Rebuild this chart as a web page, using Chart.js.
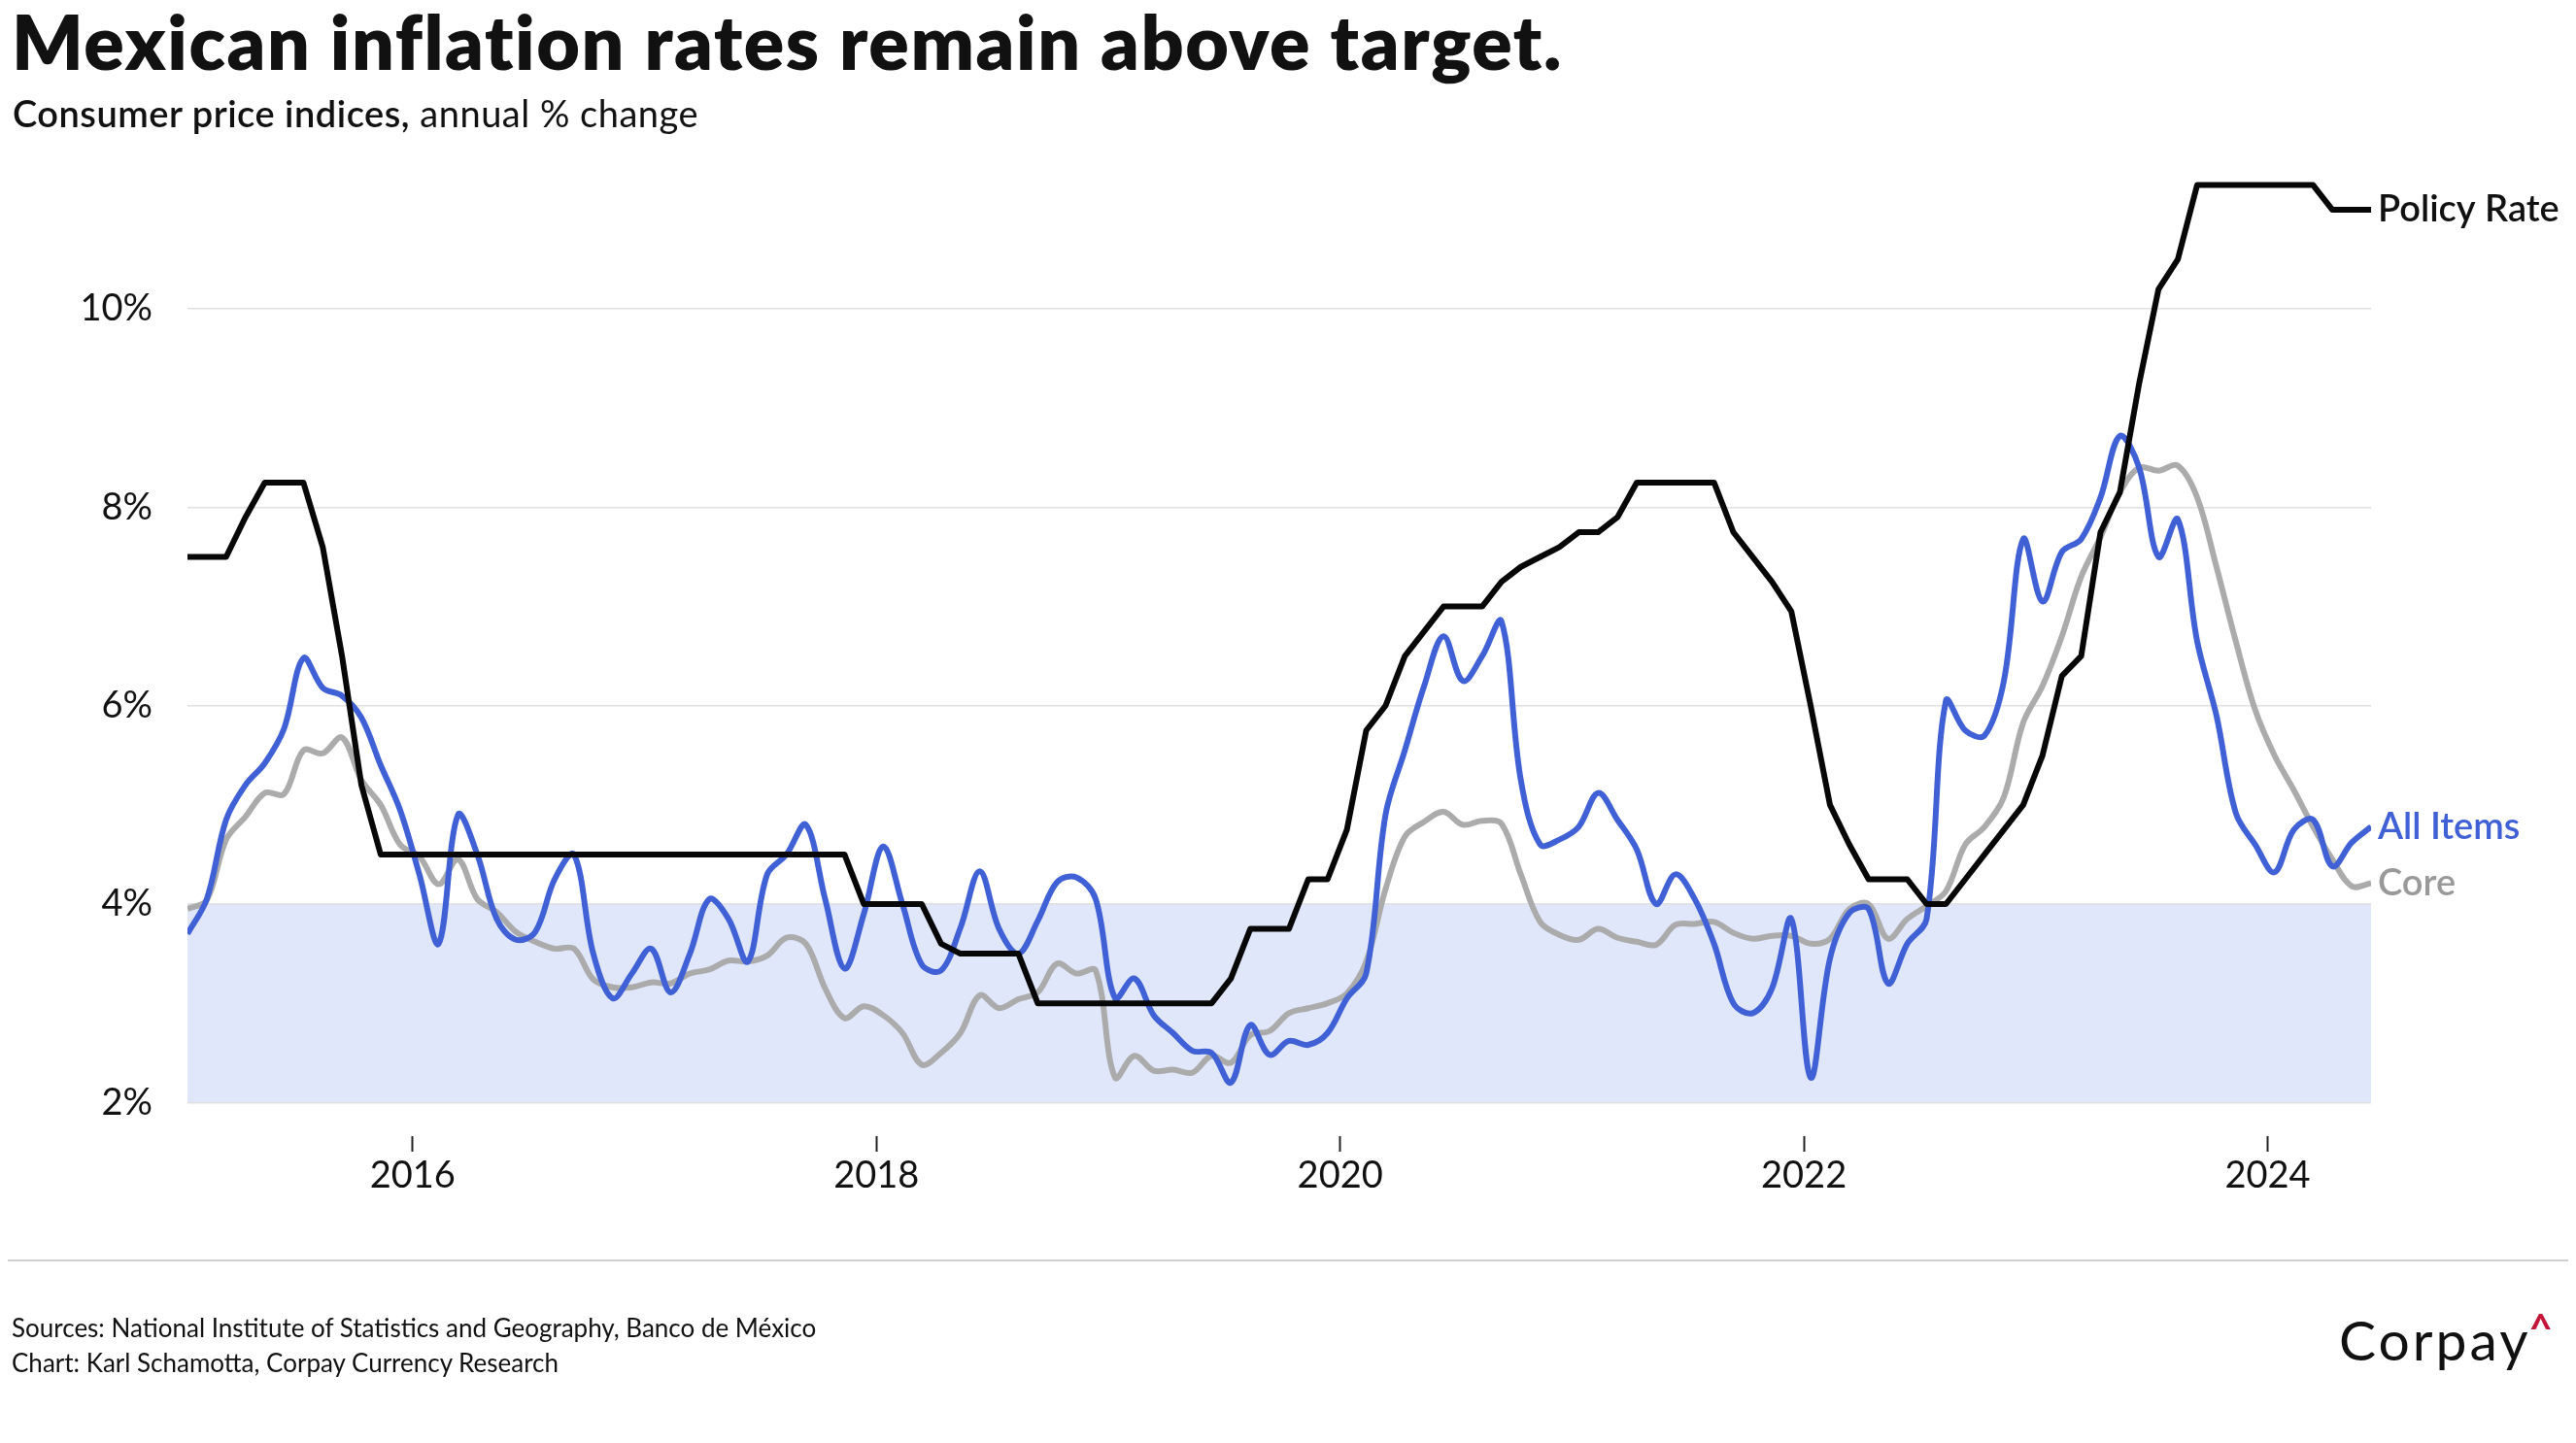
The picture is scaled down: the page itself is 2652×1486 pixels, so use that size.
<!DOCTYPE html>
<html>
<head>
<meta charset="utf-8">
<script src="https://cdn.jsdelivr.net/npm/chart.js"></script>
<style>
  body { margin: 0; width: 2652px; height: 1486px; position: relative; background: #fff; overflow: hidden; font-family: Lato, sans-serif; color: #111; }
  #chart { position: absolute; left: 0; top: 0; }
  .txt { position: absolute; white-space: nowrap; line-height: 1; }
  #title { left: 12px; top: 4px; font-size: 77px; font-weight: 800; letter-spacing: 1.6px; }
  #subtitle { left: 13px; top: 97px; font-size: 38px; font-weight: 400; letter-spacing: 0.5px; }
  #subtitle b { font-weight: 600; }
  #rule { position: absolute; left: 8px; top: 1297px; width: 2636px; border-top: 2px solid #cfcfcf; }
  #src1 { left: 12px; top: 1354px; font-size: 26px; }
  #src2 { left: 12px; top: 1390px; font-size: 26px; }
  #logo { left: 2408px; top: 1346px; font-size: 57px; letter-spacing: 3px; color: #111; }
  #logo span { color: #c4163a; font-weight: 700; font-size: 42px; vertical-align: 18px; letter-spacing: 0; margin-left: -2px; }
</style>
</head>
<body>
<canvas id="chart" width="2652" height="1486"></canvas>
<div class="txt" id="title">Mexican inflation rates remain above target.</div>
<div class="txt" id="subtitle"><b>Consumer price indices,</b> annual % change</div>
<div id="rule"></div>
<div class="txt" id="src1">Sources: National Institute of Statistics and Geography, Banco de México</div>
<div class="txt" id="src2">Chart: Karl Schamotta, Corpay Currency Research</div>
<div class="txt" id="logo">Corpay<span>^</span></div>

<script>
// monthly observations, Jan 2015 .. Jun 2024

const firstYear = 2015
const monthCount = 114

const policyRate = [
  7.5, 7.5, 7.5, 7.9, 8.25, 8.25, 8.25, 7.6, 6.5, 5.2, 4.5, 4.5,
  4.5, 4.5, 4.5, 4.5, 4.5, 4.5, 4.5, 4.5, 4.5, 4.5, 4.5, 4.5,
  4.5, 4.5, 4.5, 4.5, 4.5, 4.5, 4.5, 4.5, 4.5, 4.5, 4.5, 4.0,
  4.0, 4.0, 4.0, 3.6, 3.5, 3.5, 3.5, 3.5, 3.0, 3.0, 3.0, 3.0,
  3.0, 3.0, 3.0, 3.0, 3.0, 3.0, 3.25, 3.75, 3.75, 3.75, 4.25, 4.25,
  4.75, 5.75, 6.0, 6.5, 6.75, 7.0, 7.0, 7.0, 7.25, 7.4, 7.5, 7.6,
  7.75, 7.75, 7.9, 8.25, 8.25, 8.25, 8.25, 8.25, 7.75, 7.5, 7.25, 6.95,
  6.0, 5.0, 4.6, 4.25, 4.25, 4.25, 4.0, 4.0, 4.25, 4.5, 4.75, 5.0,
  5.5, 6.3, 6.5, 7.75, 8.15, 9.25, 10.2, 10.5, 11.25, 11.25, 11.25, 11.25,
  11.25, 11.25, 11.25, 11.0, 11.0, 11.0
]

const allItems = [
  3.7, 4.05, 4.85, 5.2, 5.42, 5.77, 6.48, 6.18, 6.1, 5.88, 5.4, 4.95,
  4.3, 3.6, 4.9, 4.5, 3.85, 3.64, 3.72, 4.25, 4.5, 3.5, 3.05, 3.3,
  3.55, 3.11, 3.5, 4.05, 3.85, 3.42, 4.3, 4.5, 4.8, 4.05, 3.35, 3.9,
  4.58, 4.0, 3.39, 3.33, 3.76, 4.33, 3.75, 3.5, 3.83, 4.22, 4.27, 4.05,
  3.05, 3.25, 2.88, 2.7, 2.52, 2.5, 2.2, 2.78, 2.48, 2.62, 2.58, 2.7,
  3.05, 3.3, 4.9, 5.55, 6.2, 6.7, 6.25, 6.5, 6.85, 5.25, 4.6, 4.65,
  4.78, 5.12, 4.85, 4.55, 4.0, 4.3, 4.05, 3.6, 3.0, 2.9, 3.15, 3.85,
  2.25, 3.45, 3.91, 3.95, 3.2, 3.6, 3.85, 6.05, 5.75, 5.7, 6.25, 7.68,
  7.05, 7.55, 7.68, 8.1, 8.72, 8.4, 7.5, 7.88, 6.65, 5.9, 4.92, 4.6,
  4.32, 4.75, 4.85, 4.38, 4.62, 4.78
]

const core = [
  3.95, 4.04, 4.65, 4.88, 5.12, 5.11, 5.55, 5.52, 5.68, 5.25, 5.0, 4.6,
  4.48, 4.2, 4.45, 4.05, 3.92, 3.72, 3.62, 3.55, 3.55, 3.24, 3.16, 3.16,
  3.21, 3.2, 3.3, 3.34, 3.43, 3.42, 3.48, 3.66, 3.6, 3.15, 2.85, 2.97,
  2.88, 2.7, 2.38, 2.5, 2.7, 3.08, 2.95, 3.04, 3.11, 3.4, 3.3, 3.33,
  2.25, 2.47, 2.32, 2.33, 2.3, 2.47, 2.4, 2.68, 2.72, 2.9, 2.95, 3.0,
  3.1, 3.42, 4.15, 4.68, 4.83, 4.93, 4.8, 4.84, 4.81, 4.3, 3.82, 3.69,
  3.64, 3.75, 3.66, 3.62, 3.59, 3.79, 3.8, 3.82, 3.71, 3.65, 3.68, 3.68,
  3.6, 3.65, 3.95, 4.0, 3.65, 3.85, 3.98, 4.13, 4.6, 4.78, 5.08, 5.83,
  6.2, 6.7, 7.3, 7.7, 8.15, 8.4, 8.37, 8.42, 8.1, 7.4, 6.65, 5.96,
  5.5, 5.15, 4.78, 4.45, 4.18, 4.21
]

const yearTicks = [2016, 2018, 2020, 2022, 2024]
const pctTicks = [2, 4, 6, 8, 10]
const targetBand = [2, 4]
const seriesNames = ['Policy Rate', 'All Items', 'Core']

// month index -> decimal year (point sits a bit into the month)
const monthX = []
for (let i = 0; i < monthCount; i++) monthX.push(firstYear + (i + 0.35) / 12)

const toPoints = arr => arr.map((v, i) => ({ x: monthX[i], y: v }))

const BLUE = 'rgb(64, 96, 214)'
const GREY = 'rgb(171, 171, 171)'
const BLACK = '#070707'

Chart.defaults.font.family = 'Lato'
Chart.defaults.color = '#111'

// shaded target range, under the grid
const bandPlugin = {
    id: 'band',
    beforeDraw(chart) {
        const { ctx, chartArea: a, scales: { y } } = chart
        const top = y.getPixelForValue(targetBand[1])
        const bot = y.getPixelForValue(targetBand[0])
        ctx.save()
        ctx.fillStyle = 'rgb(225, 231, 251)'
        ctx.fillRect(a.left, top, a.right - a.left, bot - top)
        ctx.restore()
    }
}

// series names at the end of each line
const endLabels = {
    id: 'endLabels',
    afterDatasetsDraw(chart) {
        const { ctx, chartArea: a } = chart
        ctx.save()
        ctx.font = '600 38px Lato'
        ctx.textBaseline = 'middle'
        ctx.textAlign = 'left'
        chart.data.datasets.forEach((ds, i) => {
            const pts = chart.getDatasetMeta(i).data
            const last = pts[pts.length - 1]
            ctx.fillStyle = ds.labelColor
            ctx.fillText(ds.label, a.right + 7, last.y)
        })
        ctx.restore()
    }
}

const ctx = document.getElementById('chart')
new Chart(ctx, {
    type: 'line',
    data: {
        datasets: [
            { label: seriesNames[0], data: toPoints(policyRate), borderColor: BLACK, labelColor: '#111', borderWidth: 6, tension: 0 },
            { label: seriesNames[1], data: toPoints(allItems), borderColor: BLUE, labelColor: BLUE, borderWidth: 6, tension: 0.35 },
            { label: seriesNames[2], data: toPoints(core), borderColor: GREY, labelColor: '#999', borderWidth: 6, tension: 0.35 }
        ]
    },
    options: {
        responsive: false,
        devicePixelRatio: 1,
        animation: false,
        layout: { padding: { left: 0, top: 165, right: 211, bottom: 216 } },
        elements: { point: { radius: 0 }, line: { borderJoinStyle: 'round', borderCapStyle: 'butt' } },
        plugins: { legend: { display: false }, tooltip: { enabled: false } },
        scales: {
            x: {
                type: 'linear',
                min: monthX[0],
                max: monthX[monthX.length - 1],
                afterBuildTicks: s => { s.ticks = yearTicks.map(v => ({ value: v })) },
                afterFit: s => { s.height = 100 },
                border: { display: false },
                grid: { drawOnChartArea: false, drawTicks: true, tickLength: 16, tickColor: '#222', tickWidth: 2 },
                ticks: { font: { size: 38 }, padding: 2, color: '#111', callback: v => String(v) }
            },
            y: {
                min: 1.66,
                max: 11.5,
                afterBuildTicks: s => { s.ticks = pctTicks.map(v => ({ value: v })) },
                afterFit: s => { s.width = 193 },
                border: { display: false },
                grid: { color: '#e0e0e0', lineWidth: 1.5, drawTicks: false },
                ticks: { font: { size: 38 }, padding: 36, color: '#111', callback: v => v + '%' }
            }
        }
    },
    plugins: [bandPlugin, endLabels]
})
</script>
</body>
</html>
